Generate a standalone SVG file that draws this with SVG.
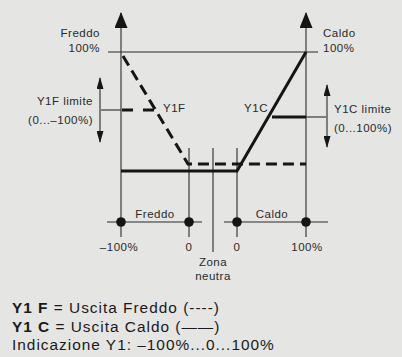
<svg xmlns="http://www.w3.org/2000/svg" width="402" height="357" viewBox="0 0 402 357">
<style>
.bg{fill:#e5e5e3}
.thin{stroke:#2a2a2a;stroke-width:1.1;fill:none}
.thick{stroke:#151515;stroke-width:3;fill:none}
.dash{stroke:#151515;stroke-width:3;fill:none;stroke-dasharray:11 6}
.t{font-family:"Liberation Sans",Arial,sans-serif;font-size:11.5px;letter-spacing:0.5px;fill:#2a2a2a}
.b{font-family:"Liberation Sans",Arial,sans-serif;font-size:15.4px;letter-spacing:1px;fill:#1a1a1a}
.dot{fill:#151515}
</style>
<defs>
<marker id="ah" viewBox="0 0 12 7" refX="11" refY="3.5" markerWidth="12" markerHeight="7" markerUnits="userSpaceOnUse" orient="auto"><path d="M0,0 L12,3.5 L0,7 z" fill="#151515"/></marker>
<marker id="ahBig" viewBox="0 0 16 13" refX="15" refY="6.5" markerWidth="16" markerHeight="13" markerUnits="userSpaceOnUse" orient="auto"><path d="M0,0 L16,6.5 L0,13 z" fill="#151515"/></marker>
</defs>
<rect class="bg" x="0" y="0" width="402" height="357"/>
<g id="connectors">
<line class="thin" x1="121" y1="237" x2="121" y2="13" marker-end="url(#ahBig)"/>
<line class="thin" x1="306" y1="237" x2="306" y2="13" marker-end="url(#ahBig)"/>
<line class="thin" x1="108" y1="52" x2="318" y2="52"/>
<line class="thin" x1="189" y1="148" x2="189" y2="237"/>
<line class="thin" x1="213" y1="148" x2="213" y2="252"/>
<line class="thin" x1="237" y1="148" x2="237" y2="237"/>
<line class="thin" x1="107" y1="222" x2="202" y2="222"/>
<line class="thin" x1="224" y1="222" x2="328" y2="222"/>
<polyline class="dash" points="123,56 188,164 306,164"/>
<line class="thin" x1="101" y1="110" x2="121" y2="110"/>
<line class="dash" x1="122" y1="110" x2="155" y2="110" style="stroke-dasharray:11 10"/>
<polyline class="thick" points="121,171 237,171 306,52"/>
<line class="thick" x1="272" y1="117" x2="306" y2="117"/>
<line class="thin" x1="306" y1="117" x2="326" y2="117"/>
<line class="thin" x1="100" y1="110" x2="100" y2="78" marker-end="url(#ah)"/>
<line class="thin" x1="100" y1="110" x2="100" y2="142" marker-end="url(#ah)"/>
<line class="thin" x1="327" y1="117" x2="327" y2="85" marker-end="url(#ah)"/>
<line class="thin" x1="327" y1="117" x2="327" y2="147" marker-end="url(#ah)"/>
</g>
<g id="dots">
<circle class="dot" cx="121" cy="222" r="4.8"/>
<circle class="dot" cx="189" cy="222" r="4.8"/>
<circle class="dot" cx="237" cy="222" r="4.8"/>
<circle class="dot" cx="306" cy="222" r="4.8"/>
</g>
<g id="labels">
<text class="t" x="100" y="37" text-anchor="end">Freddo</text>
<text class="t" x="100" y="52" text-anchor="end">100%</text>
<text class="t" x="323" y="37">Caldo</text>
<text class="t" x="323" y="52">100%</text>
<text class="t" x="93" y="105" text-anchor="end">Y1F limite</text>
<text class="t" x="93" y="124" text-anchor="end">(0...–100%)</text>
<text class="t" x="334" y="113">Y1C limite</text>
<text class="t" x="334" y="132">(0...100%)</text>
<text class="t" x="163" y="112">Y1F</text>
<text class="t" x="256" y="112" text-anchor="middle">Y1C</text>
<text class="t" x="155" y="218" text-anchor="middle">Freddo</text>
<text class="t" x="272" y="218" text-anchor="middle">Caldo</text>
<text class="t" x="119" y="251" text-anchor="middle">–100%</text>
<text class="t" x="189" y="251" text-anchor="middle">0</text>
<text class="t" x="237" y="251" text-anchor="middle">0</text>
<text class="t" x="307" y="251" text-anchor="middle">100%</text>
<text class="t" x="213" y="266" text-anchor="middle">Zona</text>
<text class="t" x="213" y="280" text-anchor="middle">neutra</text>
</g>
<g id="legend">
<text class="b" x="12" y="313"><tspan font-weight="bold">Y1 F</tspan> = Uscita Freddo (----)</text>
<text class="b" x="12" y="332"><tspan font-weight="bold">Y1 C</tspan> = Uscita Caldo (——)</text>
<text class="b" x="12" y="350">Indicazione Y1: –100%...0...100%</text>
</g>
</svg>
